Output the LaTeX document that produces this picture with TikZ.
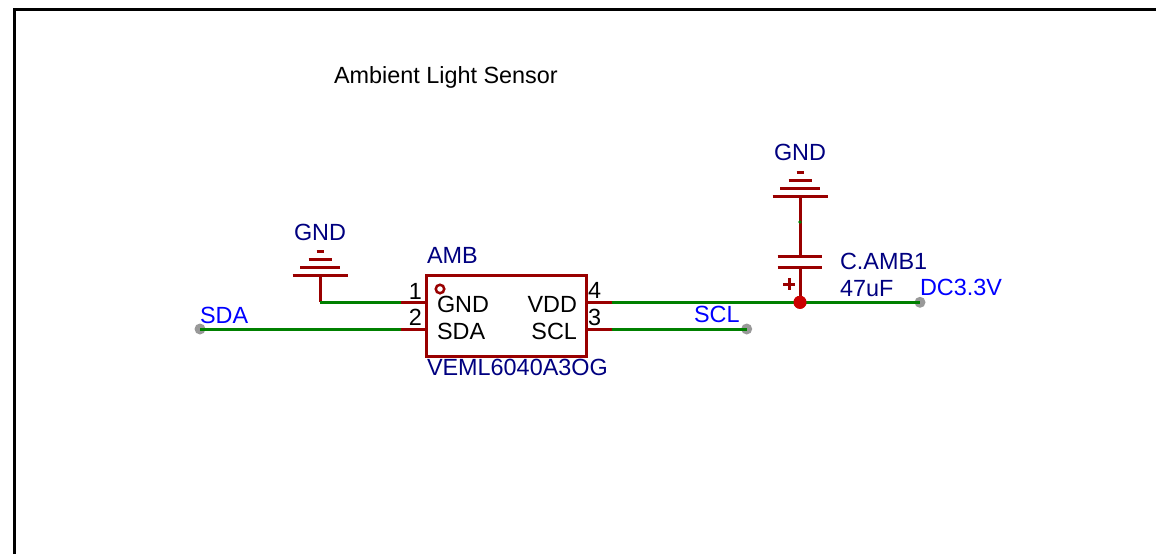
\documentclass[tikz,border=0pt]{standalone}
\usepackage{fontspec}
\setmainfont{Liberation Sans}
\definecolor{pinred}{HTML}{990000}
\definecolor{wiregreen}{HTML}{008000}
\definecolor{dotred}{HTML}{CC0000}
\definecolor{portgrey}{HTML}{999999}
\definecolor{partnavy}{HTML}{000080}
\tikzset{
  x=1pt,y=-1pt,
  lab/.style={inner sep=0pt,outer sep=0pt,anchor=base west,font=\fontsize{23.4}{26}\selectfont,text=black},
  labr/.style={lab,anchor=base east},
  partlab/.style={lab,text=partnavy},
  netlab/.style={lab,text=blue},
  wirel/.style={draw=wiregreen,line width=3pt},
  pinl/.style={draw=pinred,line width=3pt},
  port/.style={circle,fill=portgrey,draw=none,minimum size=11pt,inner sep=0pt},
  junction/.style={circle,fill=dotred,draw=none,minimum size=13pt,inner sep=0pt},
  icbox/.style={draw=pinred,line width=3pt,rectangle,minimum width=160.5pt,minimum height=80.3pt,inner sep=0pt,outer sep=0pt},
  pics/gndsym/.style={code={
    \draw[pinred,line width=3pt] (-27.5,0) -- (27.5,0) (-20,-8) -- (20,-8) (-11.5,-16) -- (11.5,-16) (-3.5,-24) -- (3.5,-24);
  }}
}
\begin{document}
\begin{tikzpicture}
\useasboundingbox (0,0) rectangle (1156,554);
\fill[white] (0,0) rectangle (1156,554);
% sheet frame
\coordinate (fa) at (14,554);
\coordinate (fb) at (14,9);
\coordinate (fc) at (1156,9);
\draw[black,line width=3pt,line join=miter] (fa) -- (fb) -- (fc);

\node[lab] (title) at (334,83) {Ambient Light Sensor};

% IC
\node[icbox] (ic) at (506.3,315.9) {};
\node[circle,draw=pinred,line width=2.5pt,fill=none,minimum size=8.5pt,inner sep=0pt] (mark) at (440,289) {};

\coordinate (p1) at (ic.west |- 0,302.3);
\coordinate (p2) at (ic.west |- 0,329);
\coordinate (p4) at (ic.east |- 0,302.3);
\coordinate (p3) at (ic.east |- 0,329);
\coordinate (p1e) at (401,302.3);
\coordinate (p2e) at (401,329);
\coordinate (p4e) at (611.7,302.3);
\coordinate (p3e) at (611.7,329);

% ports and junction
\node[port] (sda) at (200,329) {};
\node[port] (scl) at (746.7,329) {};
\node[port] (vcc) at (920,302.3) {};
\node[junction] (j) at (800,302.3) {};

% left GND
\coordinate (gl) at (320,275.7);
\coordinate (glc) at (320,302.3);
\pic at (gl) {gndsym};
% right GND and capacitor
\coordinate (gr) at (800,196);
\coordinate (cmid) at (800,222);
\coordinate (ct) at (800,256.7);
\coordinate (cb) at (800,267.7);
\pic at (gr) {gndsym};

% stems
\draw[pinl] (gl) -- (glc);
\draw[pinl] (gr) -- (ct);

% wires
\draw[wirel] (sda.center) -- (p2e);
\draw[wirel,line cap=square] (glc) -- (p1e);
\draw[wirel] (p3e) -- (scl.center);
\draw[wirel] (p4e) -- (vcc.center);

% pins
\draw[pinl] (p1e) -- (p1);
\draw[pinl] (p2e) -- (p2);
\draw[pinl] (p4) -- (p4e);
\draw[pinl] (p3) -- (p3e);
\draw[pinl] (cb) -- (j.center);
\draw[pinl] (777.7,256.7) -- (822.3,256.7);
\draw[pinl] (777.7,267.7) -- (822.3,267.7);
\draw[pinl] (783,284) -- (795,284) (789,278) -- (789,290);
\fill[wiregreen] (cmid) circle (1.8);
\node[junction] at (j) {};

% labels
\node[partlab] (g1) at (294,240.8) {GND};
\node[partlab] (g2) at (774,160.8) {GND};
\node[partlab] (amb) at (427,263.3) {AMB};
\node[partlab] (veml) at (427,375) {VEML6040A3OG};
\node[partlab] (camb) at (840,269) {C.AMB1};
\node[partlab] (cval) at (840,296.3) {47uF};
\node[netlab] (lsda) at (200,323) {SDA};
\node[netlab] (lscl) at (694,322.7) {SCL};
\node[netlab] (lvcc) at (920,295.5) {DC3.3V};
\node[labr] (n1) at (422,299) {1};
\node[labr] (n2) at (422,325.5) {2};
\node[lab] (n4) at (588,298.5) {4};
\node[lab] (n3) at (588,325) {3};
\node[lab] (pg) at (437,312.3) {GND};
\node[lab] (ps) at (437,339) {SDA};
\node[labr] (pv) at (577,312.3) {VDD};
\node[labr] (pc) at (577,339) {SCL};
\end{tikzpicture}
\end{document}
